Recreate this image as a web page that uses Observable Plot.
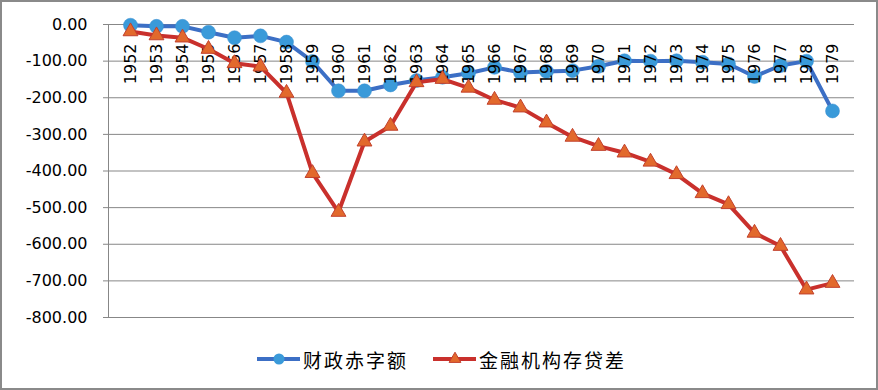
<!DOCTYPE html>
<html><head><meta charset="utf-8">
<script src="https://cdn.jsdelivr.net/npm/d3@7"></script>
<script src="https://cdn.jsdelivr.net/npm/@observablehq/plot@0.6"></script>
<style>
body{margin:0;background:#fff;}
#wrap{position:relative;width:878px;height:390px;overflow:hidden;background:#fff;}
#wrap svg.plot{position:absolute;left:0;top:0;}
#border{position:absolute;left:0;top:0;width:878px;height:390px;box-sizing:border-box;border:2px solid #8a8a8a;pointer-events:none;}
#legend{position:absolute;left:257px;top:348px;height:22px;display:flex;align-items:center;font-family:"Noto Sans CJK SC",sans-serif;font-size:19px;letter-spacing:2px;color:#000;}
#legend .item{display:flex;align-items:center;}
#legend svg{display:block;}
</style></head>
<body>
<div id="wrap"><div id="border"></div></div>
<script>
const years = ["1952","1953","1954","1955","1956","1957","1958","1959","1960","1961","1962","1963","1964","1965","1966","1967","1968","1969","1970","1971","1972","1973","1974","1975","1976","1977","1978","1979"];
const deficit = [-2,-5,-5,-21,-36,-31,-48,-101,-181,-181,-165,-153,-144,-133,-117,-131,-128,-126,-114,-99,-100,-99,-103,-108,-142,-112,-100,-236];
const spread = [-19,-30,-36,-67,-106,-115,-187,-406,-512,-320,-277,-158,-149,-173,-206,-227,-268,-307,-332,-350,-375,-409,-461,-491,-569,-605,-724,-706];
const yTicks = [0,-100,-200,-300,-400,-500,-600,-700,-800];
const seriesNames = ["财政赤字额","金融机构存贷差"];

const blueLine = "#3c6fc5", blueDot = "#3a9ad9";
const redLine = "#c9302c", redFill = "#e2692c";
const gridColor = "#878787";

const deficitData = years.map((y,i)=>({year:y, value:deficit[i]}));
const spreadData = years.map((y,i)=>({year:y, value:spread[i]}));

const chart = Plot.plot({
  width: 878, height: 390,
  marginLeft: 108, marginRight: 24, marginTop: 24, marginBottom: 73,
  style: {fontFamily: "DejaVu Sans", fontSize: "16px", color: "#000", background: "transparent"},
  x: {type: "point", domain: years, padding: 0.5, axis: null},
  y: {domain: [-800, 0], axis: null},
  marks: [
    Plot.gridY(yTicks, {stroke: gridColor, strokeOpacity: 1, strokeWidth: 1}),
    Plot.axisY(yTicks, {label: null, tickFormat: d => d.toFixed(2), tickSize: 5, tickPadding: 16, stroke: gridColor, fill: "#000", fontSize: 16, fontFamily: "DejaVu Sans"}),
    Plot.frame({anchor: "left", stroke: gridColor}),
    Plot.line(deficitData, {x: "year", y: "value", stroke: blueLine, strokeWidth: 4, curve: "linear"}),
    Plot.dot(deficitData, {x: "year", y: "value", r: 7, fill: blueDot, stroke: "#3a8fd0", strokeWidth: 0.5}),
    Plot.text(years, {x: d => d, y: 0, text: d => d, rotate: -90, textAnchor: "end", dy: 19, fontSize: 16, fontFamily: "DejaVu Sans", fill: "#000"}),
    Plot.line(spreadData, {x: "year", y: "value", stroke: redLine, strokeWidth: 4, curve: "linear"}),
    Plot.dot(spreadData, {x: "year", y: "value", symbol: "triangle", r: 5.5, fill: redFill, stroke: "#c2402c", strokeWidth: 1})
  ]
});
chart.classList.add("plot");
const wrap = document.getElementById("wrap");
wrap.insertBefore(chart, wrap.firstChild);

// legend
const legend = document.createElement("div");
legend.id = "legend";
function swatch(kind){
  const ns = "http://www.w3.org/2000/svg";
  const s = document.createElementNS(ns, "svg");
  s.setAttribute("width", 46); s.setAttribute("height", 20);
  const l = document.createElementNS(ns, "line");
  l.setAttribute("x1", 0); l.setAttribute("x2", 43); l.setAttribute("y1", 10); l.setAttribute("y2", 10);
  l.setAttribute("stroke", kind === 0 ? blueLine : redLine); l.setAttribute("stroke-width", 4);
  s.appendChild(l);
  if (kind === 0) {
    const c = document.createElementNS(ns, "circle");
    c.setAttribute("cx", 22); c.setAttribute("cy", 10); c.setAttribute("r", 5.5); c.setAttribute("fill", blueDot);
    s.appendChild(c);
  } else {
    const p = document.createElementNS(ns, "path");
    p.setAttribute("d", d3.symbol(d3.symbolTriangle, 60)());
    p.setAttribute("transform", "translate(22,10)");
    p.setAttribute("fill", redFill); p.setAttribute("stroke", "#c2402c");
    s.appendChild(p);
  }
  return s;
}
seriesNames.forEach((name, i) => {
  const it = document.createElement("div");
  it.className = "item";
  if (i === 1) it.style.marginLeft = "25px";
  it.appendChild(swatch(i));
  const t = document.createElement("span");
  t.textContent = name;
  it.appendChild(t);
  legend.appendChild(it);
});
wrap.appendChild(legend);
</script>
</body></html>
